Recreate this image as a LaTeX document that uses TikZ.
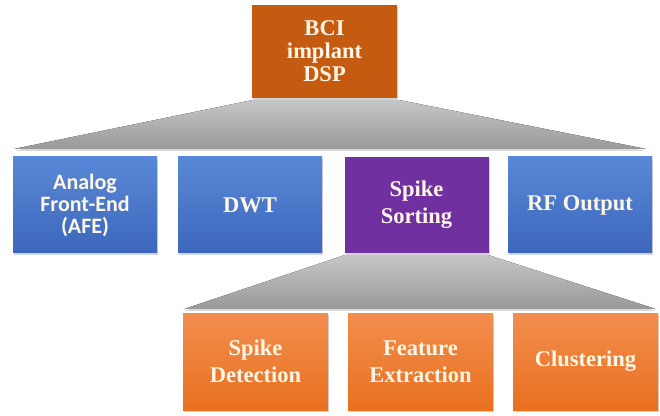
\documentclass[tikz,border=0pt]{standalone}
\usepackage{fontspec}
\setmainfont{Liberation Serif}
\newfontfamily\timesfont{Liberation Serif}
\newfontfamily\calibri{Carlito}
\usetikzlibrary{positioning, calc, shadows}
\usepackage{xcolor}
\definecolor{dsprust}{HTML}{C55A11}
\definecolor{dspbluetop}{HTML}{5A88D8}
\definecolor{dspbluebot}{HTML}{3C67BB}
\definecolor{dsppurple}{HTML}{7030A0}
\definecolor{dsporangetop}{HTML}{F28E4E}
\definecolor{dsporangebot}{HTML}{E8701F}
\definecolor{dsptext}{HTML}{FFF6E6}

\begin{document}
\begin{tikzpicture}[x=1pt, y=1pt,
  box/.style={rectangle, minimum width=144pt, minimum height=96pt, align=center,
    text=dsptext, font=\timesfont\bfseries\fontsize{22.5}{27}\selectfont, inner sep=2pt,
    drop shadow={opacity=0.35, shadow xshift=1pt, shadow yshift=-2pt}},
  bluebox/.style={box, top color=dspbluetop, bottom color=dspbluebot},
  orangebox/.style={box, top color=dsporangetop, bottom color=dsporangebot},
  fan/.style={top color=gray!45, bottom color=gray!80,
    drop shadow={opacity=0.3, shadow xshift=0pt, shadow yshift=-2pt}}
]
  \useasboundingbox (0,0) rectangle (660,415);

  % Top block
  \node[box, fill=dsprust, minimum width=145pt, minimum height=93pt,
        font=\timesfont\bfseries\fontsize{22.5}{23}\selectfont] (dsp) at (324.5,363.5) {BCI\\implant\\DSP};

  % Second row
  \node[bluebox, font=\calibri\bfseries\fontsize{22}{22}\selectfont] (afe) at (85,210) {Analog\\Front-End\\(AFE)};
  \node[bluebox] (dwt) at (250,210) {DWT};
  \node[box, fill=dsppurple] (sort) at (416.5,210) {Spike\\Sorting};
  \node[bluebox] (rf) at (580,210) {RF Output};

  % Third row
  \node[orangebox, minimum width=145pt, minimum height=97pt] (detect) at (255.5,53.5) {Spike\\Detection};
  \node[orangebox, minimum width=145pt, minimum height=97pt] (feature) at (420.5,53.5) {Feature\\Extraction};
  \node[orangebox, minimum width=145pt, minimum height=97pt] (cluster) at (585.5,53.5) {Clustering};

  % Grey fans between levels
  \coordinate (fanAl) at ($(afe.north west)+(2,8)$);
  \coordinate (fanAr) at ($(rf.north east)+(-7,8)$);
  \fill[fan] ($(dsp.south west)+(0,-2)$) -- ($(dsp.south east)+(3,-2)$)
    -- (fanAr) -- (fanAl) -- cycle;

  \coordinate (fanBl) at ($(detect.north west)+(2,4)$);
  \coordinate (fanBr) at ($(cluster.north east)+(-3,4)$);
  \fill[fan] ($(sort.south west)+(0,-2)$) -- ($(sort.south east)+(0,-2)$)
    -- (fanBr) -- (fanBl) -- cycle;
\end{tikzpicture}
\end{document}
